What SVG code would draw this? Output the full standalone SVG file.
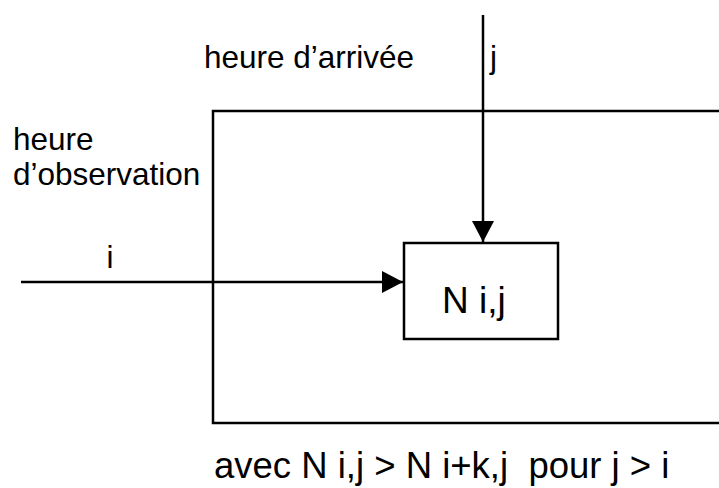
<svg xmlns="http://www.w3.org/2000/svg" width="719" height="488" viewBox="0 0 719 488">
<style>
text{font-family:"Liberation Sans",Arial,sans-serif;fill:#000}
.ln{stroke:#000;stroke-width:2.5;fill:none}
</style>
<defs>
<marker id="ah" markerUnits="userSpaceOnUse" markerWidth="22" markerHeight="22" viewBox="0 0 22 22" refX="21" refY="11" orient="auto">
<path d="M0,0 L21,11 L0,22 Z" fill="#000"/>
</marker>
</defs>
<rect width="719" height="488" fill="#fff"/>
<g id="frame"><path class="ln" d="M730,111 H213 V423 H730"/></g>
<g id="node-nij">
<rect class="ln" x="404" y="243" width="154" height="96"/>
<text x="442" y="313" font-size="37">N i,j</text>
</g>
<g id="connectors">
<line class="ln" x1="483" y1="15" x2="483" y2="242" marker-end="url(#ah)"/>
<line class="ln" x1="21" y1="282" x2="403" y2="282" marker-end="url(#ah)"/>
</g>
<g id="labels">
<text x="204" y="68" font-size="31.5">heure d’arrivée</text>
<text x="490" y="68" font-size="31.5">j</text>
<text x="13" y="150" font-size="31.5">heure</text>
<text x="13" y="185" font-size="31.5">d’observation</text>
<text x="110" y="268" font-size="31.5" text-anchor="middle">i</text>
<text x="214" y="478" font-size="36.5" xml:space="preserve">avec N i,j &gt; N i+k,j  pour j &gt; i</text>
</g>
</svg>
